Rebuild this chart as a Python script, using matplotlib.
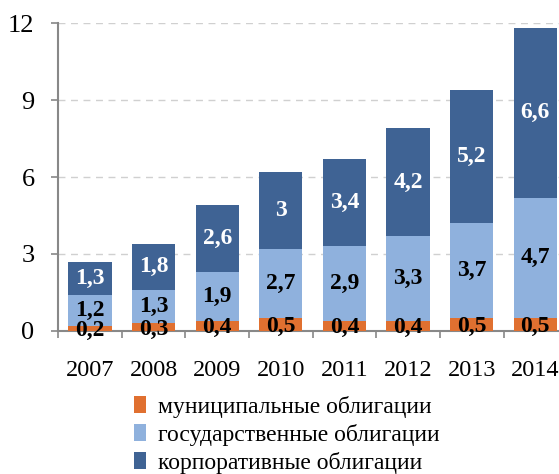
import matplotlib
matplotlib.use("Agg")
import matplotlib.pyplot as plt
import numpy as np

years = ["2007", "2008", "2009", "2010", "2011", "2012", "2013", "2014"]
municipal = [0.2, 0.3, 0.4, 0.5, 0.4, 0.4, 0.5, 0.5]
government = [1.2, 1.3, 1.9, 2.7, 2.9, 3.3, 3.7, 4.7]
corporate = [1.3, 1.8, 2.6, 3.0, 3.4, 4.2, 5.2, 6.6]
series_names = ["муниципальные облигации", "государственные облигации", "корпоративные облигации"]
yticks = [0, 3, 6, 9, 12]

plt.rcParams['font.family'] = ['Liberation Serif', 'DejaVu Serif']

fig = plt.figure(figsize=(5.59, 4.74), dpi=100)
ax = fig.add_axes([0.104, 0.302, 0.9106, 0.649])

x = np.arange(len(years))
w = 0.68
c1, c2, c3 = "#E07030", "#8FB1DD", "#3F6394"
m = np.array(municipal); g = np.array(government); c = np.array(corporate)
b1 = ax.bar(x, m, w, color=c1, label=series_names[0], zorder=3)
b2 = ax.bar(x, g, w, bottom=m, color=c2, label=series_names[1], zorder=3)
b3 = ax.bar(x, c, w, bottom=m + g, color=c3, label=series_names[2], zorder=3)

def fmt(v):
    s = ("%.1f" % v).replace(".", ",")
    if s.endswith(",0"):
        s = s[:-2]
    return s

fs = 17
for i in range(len(years)):
    ax.text(x[i], m[i] / 2 - 0.08, fmt(m[i]), ha="center", va="center", fontsize=fs, fontweight="bold", color="black", zorder=5)
    ax.text(x[i], m[i] + g[i] / 2, fmt(g[i]), ha="center", va="center", fontsize=fs, fontweight="bold", color="black", zorder=5)
    ax.text(x[i], m[i] + g[i] + c[i] / 2, fmt(c[i]), ha="center", va="center", fontsize=fs, fontweight="bold", color="white", zorder=5)

ax.set_xlim(-0.5, len(years) - 0.5)
ax.set_ylim(0, 12)
ax.set_yticks(yticks)
ax.set_yticklabels([str(t) for t in yticks], fontsize=19)
ax.yaxis.grid(True, linestyle=(0, (5, 4)), color="#D0D0D0", linewidth=1, zorder=0)
ax.set_xticks(x)
ax.set_xticklabels(years, fontsize=17.5)
ax.tick_params(axis="x", length=0, pad=21)
ax.set_xticks(np.arange(-0.5, len(years), 1), minor=True)
ax.tick_params(axis="x", which="minor", length=5, color="#888888", width=1.2)
ax.tick_params(axis="y", length=5, color="#888888", width=1.2, pad=12)
for s in ["top", "right"]:
    ax.spines[s].set_visible(False)
for s in ["left", "bottom"]:
    ax.spines[s].set_color("#888888")
    ax.spines[s].set_linewidth(1.5)

leg = fig.legend(handles=[b1, b2, b3], loc="upper left", bbox_to_anchor=(0.219, 0.19),
                 frameon=False, fontsize=17, handlelength=0.5, handleheight=0.7,
                 handletextpad=0.5, labelspacing=0.25, borderpad=0)

fig.savefig("out.png", dpi=100)
